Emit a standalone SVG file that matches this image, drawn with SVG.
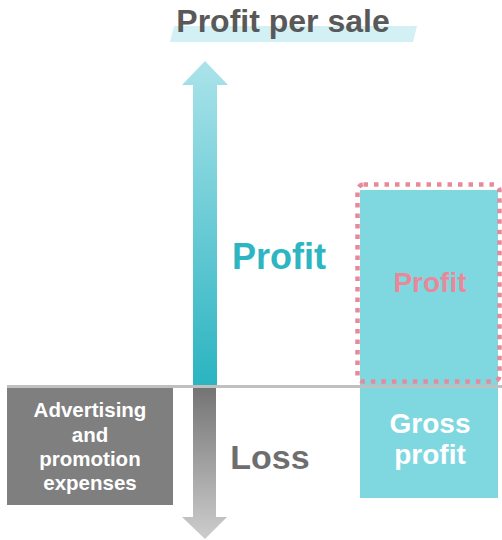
<svg xmlns="http://www.w3.org/2000/svg" width="502" height="540" viewBox="0 0 502 540">
  <style>
    text { font-family: "Liberation Sans", Arial, sans-serif; font-weight: bold; text-anchor: middle; }
    .white { fill: #ffffff; }
  </style>
  <defs>
    <linearGradient id="upGrad" x1="0" y1="0" x2="0" y2="1">
      <stop offset="0" stop-color="#abe3ea"/>
      <stop offset="1" stop-color="#2bb4c1"/>
    </linearGradient>
    <linearGradient id="downGrad" x1="0" y1="0" x2="0" y2="1">
      <stop offset="0" stop-color="#747474"/>
      <stop offset="1" stop-color="#cdcdcd"/>
    </linearGradient>
  </defs>

  <!-- title with highlight band -->
  <g id="title">
    <polygon points="174,26 417,26 413,42 170,42" fill="#d3f0f4"/>
    <text x="283" y="32" font-size="32" fill="#595959">Profit per sale</text>
  </g>

  <!-- gross profit bar -->
  <g id="gross-profit">
    <rect x="360" y="190" width="138" height="308" fill="#7fd8e0"/>
    <text class="white" x="430" y="433" font-size="28">Gross</text>
    <text class="white" x="430" y="464" font-size="28">profit</text>
  </g>

  <!-- profit section, dotted outline -->
  <g id="profit-box">
    <rect x="357.5" y="184.5" width="142" height="197" rx="6" fill="none" stroke="#e8899a" stroke-width="4.5" stroke-dasharray="4.5 6"/>
    <text x="430" y="292" font-size="28" fill="#e8899a">Profit</text>
  </g>

  <!-- advertising cost block -->
  <g id="advertising">
    <rect x="7" y="388" width="166" height="117" fill="#7f7f7f"/>
    <text class="white" x="90" y="417" font-size="20.5">Advertising</text>
    <text class="white" x="90" y="442" font-size="20.5">and</text>
    <text class="white" x="90" y="466" font-size="20.5">promotion</text>
    <text class="white" x="90" y="490" font-size="20.5">expenses</text>
  </g>

  <!-- axis arrows and labels -->
  <g id="connectors">
    <polygon points="205,61 228,85 217,85 217,385 193,385 193,85 182,85" fill="url(#upGrad)"/>
    <polygon points="193,388 216,388 216,517 227,517 205,539 182,517 193,517" fill="url(#downGrad)"/>
    <line x1="7" y1="386.5" x2="502" y2="386.5" stroke="#c0c0c0" stroke-width="3"/>
  </g>

  <g id="profit-label">
    <text x="279" y="269" font-size="36" fill="#2db6c2">Profit</text>
  </g>
  <g id="loss-label">
    <text x="270" y="469" font-size="34" fill="#6e6e6e">Loss</text>
  </g>
</svg>
